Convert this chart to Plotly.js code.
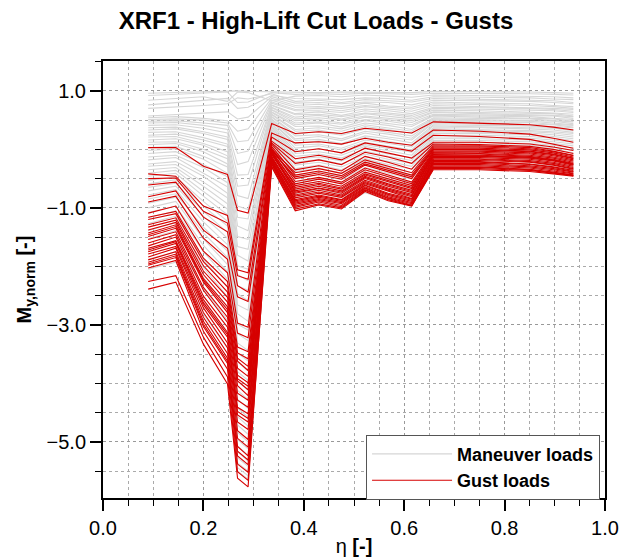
<!DOCTYPE html>
<html>
<head>
<meta charset="utf-8">
<script src="https://cdn.plot.ly/plotly-3.0.1.min.js"></script>
<style>html,body{margin:0;padding:0;background:#fff}#chart{width:622px;height:559px}</style>
</head>
<body>
<div id="chart"></div>
<script>
// spanwise stations eta
const eta = [0.09,0.145,0.2,0.248,0.268,0.289,0.336,0.383,0.43,0.475,0.522,0.568,0.615,0.658,0.75,0.85,0.897,0.937];

// Maneuver loads (gray)
const maneuverLoads = [
[0.96,0.97,0.98,0.99,1.00,0.99,0.98,0.97,0.97,0.98,0.98,0.98,0.97,0.99,0.99,0.98,0.97,0.96],
[0.92,0.94,0.96,0.98,0.80,0.81,0.97,0.94,0.95,0.94,0.96,0.95,0.94,0.96,0.96,0.95,0.94,0.93],
[0.84,0.87,0.90,0.82,0.98,0.97,0.83,0.91,0.92,0.90,0.93,0.91,0.89,0.93,0.92,0.91,0.90,0.88],
[0.76,0.80,0.84,0.87,0.70,0.72,0.92,0.87,0.86,0.85,0.88,0.87,0.84,0.90,0.89,0.88,0.86,0.85],
[0.70,0.72,0.75,0.78,0.88,0.86,0.95,0.82,0.84,0.80,0.85,0.83,0.81,0.87,0.86,0.84,0.83,0.80],
[0.57,0.59,0.62,0.64,0.52,0.55,0.90,0.79,0.80,0.78,0.81,0.80,0.76,0.84,0.83,0.82,0.80,0.78],
[0.54,0.56,0.53,0.49,0.31,0.35,0.87,0.75,0.77,0.73,0.79,0.74,0.72,0.81,0.79,0.78,0.75,0.73],
[0.51,0.52,0.50,0.45,0.13,0.15,0.84,0.72,0.73,0.70,0.75,0.72,0.69,0.78,0.77,0.75,0.73,0.70],
[0.48,0.49,0.45,0.41,-0.07,-0.03,0.81,0.68,0.70,0.66,0.73,0.69,0.65,0.75,0.73,0.72,0.70,0.68],
[0.45,0.46,0.41,0.34,-0.26,-0.21,0.79,0.66,0.66,0.63,0.69,0.66,0.61,0.72,0.71,0.70,0.68,0.65],
[0.41,0.42,0.36,0.28,-0.44,-0.43,0.76,0.61,0.64,0.58,0.66,0.62,0.58,0.70,0.69,0.67,0.66,0.63],
[0.37,0.38,0.30,0.21,-0.63,-0.61,0.75,0.59,0.60,0.56,0.62,0.60,0.55,0.67,0.66,0.64,0.62,0.60],
[0.33,0.35,0.27,0.17,-0.79,-0.84,0.72,0.55,0.58,0.52,0.61,0.57,0.52,0.64,0.63,0.62,0.61,0.57],
[0.29,0.30,0.20,0.09,-0.97,-1.03,0.71,0.52,0.54,0.50,0.57,0.53,0.49,0.63,0.61,0.60,0.58,0.56],
[0.24,0.26,0.16,0.05,-1.16,-1.19,0.68,0.49,0.51,0.45,0.55,0.50,0.46,0.60,0.59,0.58,0.57,0.53],
[0.21,0.22,0.10,-0.04,-1.31,-1.39,0.67,0.45,0.47,0.43,0.51,0.48,0.42,0.58,0.57,0.56,0.53,0.51],
[0.16,0.18,0.07,-0.11,-1.49,-1.54,0.64,0.42,0.45,0.38,0.49,0.44,0.39,0.57,0.55,0.53,0.52,0.48],
[0.12,0.13,0.00,-0.16,-1.66,-1.71,0.63,0.39,0.40,0.35,0.45,0.41,0.34,0.54,0.53,0.52,0.49,0.47],
[0.08,0.10,-0.04,-0.25,-1.81,-1.91,0.60,0.34,0.37,0.31,0.42,0.36,0.31,0.52,0.51,0.49,0.48,0.44],
[0.03,0.05,-0.12,-0.30,-1.99,-2.05,0.59,0.31,0.33,0.26,0.39,0.34,0.27,0.50,0.49,0.48,0.45,0.42],
[-0.02,0.01,-0.17,-0.41,-2.14,-2.25,0.56,0.26,0.30,0.24,0.35,0.29,0.23,0.48,0.47,0.46,0.43,0.41],
[-0.07,-0.04,-0.26,-0.47,-2.33,-2.41,0.55,0.23,0.25,0.18,0.31,0.26,0.19,0.46,0.45,0.43,0.42,0.38],
[-0.13,-0.10,-0.31,-0.57,-2.47,-2.59,0.52,0.18,0.22,0.15,0.28,0.21,0.16,0.45,0.43,0.41,0.39,0.37],
[-0.18,-0.14,-0.41,-0.64,-2.66,-2.75,0.51,0.15,0.17,0.10,0.23,0.18,0.11,0.42,0.41,0.40,0.37,0.34],
[-0.25,-0.21,-0.46,-0.75,-2.81,-2.94,0.48,0.10,0.14,0.08,0.20,0.13,0.07,0.40,0.39,0.37,0.36,0.32],
[-0.29,-0.26,-0.56,-0.83,-2.99,-3.09,0.47,0.07,0.09,0.02,0.16,0.10,0.04,0.37,0.37,0.35,0.33,0.29],
[-0.35,-0.31,-0.63,-0.93,-3.15,-3.27,0.44,0.02,0.06,-0.01,0.12,0.05,-0.01,0.35,0.34,0.32,0.30,0.27],
[-0.41,-0.36,-0.72,-1.02,-3.31,-3.44,0.42,-0.03,0.01,-0.06,0.08,0.01,-0.05,0.32,0.32,0.30,0.28,0.24],
[-0.46,-0.41,-0.80,-1.12,-3.48,-3.62,0.39,-0.07,-0.04,-0.10,0.05,-0.03,-0.10,0.30,0.29,0.28,0.25,0.21],
[-0.53,-0.47,-0.89,-1.23,-3.63,-3.79,0.37,-0.12,-0.08,-0.15,0.01,-0.08,-0.14,0.27,0.27,0.25,0.22,0.18],
[-0.59,-0.52,-0.97,-1.31,-3.80,-3.95,0.34,-0.17,-0.13,-0.20,-0.03,-0.12,-0.19,0.24,0.24,0.22,0.19,0.15],
[-0.65,-0.58,-1.06,-1.42,-3.96,-4.12,0.31,-0.22,-0.17,-0.25,-0.08,-0.17,-0.24,0.21,0.21,0.19,0.16,0.12],
[-0.71,-0.63,-1.14,-1.52,-4.12,-4.28,0.28,-0.27,-0.22,-0.30,-0.12,-0.21,-0.29,0.18,0.18,0.16,0.13,0.09],
[-0.78,-0.69,-1.24,-1.63,-4.27,-4.43,0.25,-0.33,-0.27,-0.35,-0.16,-0.26,-0.34,0.15,0.15,0.13,0.10,0.06],
[-0.85,-0.76,-1.33,-1.74,-4.42,-4.58,0.21,-0.38,-0.32,-0.41,-0.21,-0.31,-0.40,0.11,0.12,0.10,0.07,0.02],
[-0.92,-0.82,-1.43,-1.85,-4.57,-4.73,0.17,-0.44,-0.38,-0.46,-0.26,-0.36,-0.45,0.08,0.09,0.07,0.03,-0.02],
[-1.00,-0.89,-1.53,-1.97,-4.71,-4.87,0.12,-0.50,-0.43,-0.52,-0.31,-0.41,-0.51,0.04,0.05,0.03,0.00,-0.06],
[-1.08,-0.97,-1.64,-2.09,-4.84,-5.00,0.08,-0.56,-0.49,-0.57,-0.36,-0.47,-0.57,0.00,0.01,-0.01,-0.05,-0.10],
[-1.17,-1.05,-1.75,-2.22,-4.96,-5.12,0.03,-0.62,-0.55,-0.63,-0.41,-0.52,-0.63,-0.05,-0.03,-0.05,-0.09,-0.15],
[-1.27,-1.14,-1.88,-2.36,-5.07,-5.23,-0.02,-0.69,-0.61,-0.69,-0.47,-0.58,-0.69,-0.10,-0.08,-0.10,-0.14,-0.20],
[-1.39,-1.25,-2.02,-2.52,-5.17,-5.33,-0.08,-0.76,-0.68,-0.76,-0.53,-0.64,-0.75,-0.15,-0.13,-0.15,-0.19,-0.25],
[-1.53,-1.39,-2.19,-2.70,-5.27,-5.42,-0.14,-0.83,-0.75,-0.83,-0.59,-0.71,-0.82,-0.20,-0.18,-0.20,-0.24,-0.29],
[-1.70,-1.56,-2.38,-2.92,-5.36,-5.50,-0.20,-0.90,-0.82,-0.90,-0.65,-0.77,-0.88,-0.25,-0.23,-0.25,-0.28,-0.32],
[-1.88,-1.75,-2.60,-3.15,-5.44,-5.58,-0.26,-0.96,-0.88,-0.95,-0.70,-0.82,-0.93,-0.29,-0.27,-0.29,-0.31,-0.35],
[-2.05,-1.93,-2.82,-3.40,-5.50,-5.64,-0.31,-1.01,-0.93,-0.99,-0.74,-0.86,-0.96,-0.33,-0.31,-0.32,-0.34,-0.38]
];

// Gust loads (red)
const gustLoads = [
[0.03,0.03,-0.29,-0.43,-1.04,-1.09,0.44,0.27,0.30,0.27,0.36,0.32,0.28,0.47,0.45,0.42,0.38,0.33],
[-0.42,-0.46,-0.97,-1.13,-2.06,-2.11,0.28,0.11,0.13,0.09,0.19,0.12,0.07,0.33,0.31,0.26,0.19,0.12],
[-0.50,-0.49,-1.06,-1.26,-2.16,-2.22,0.21,-0.04,0.01,-0.06,0.11,0.04,-0.03,0.24,0.22,0.17,0.09,0.02],
[-0.61,-0.56,-1.16,-1.41,-2.33,-2.44,0.14,-0.16,-0.10,-0.18,0.02,-0.06,-0.15,0.12,0.12,0.09,0.04,-0.02],
[-0.81,-0.71,-1.38,-1.69,-2.52,-2.60,0.09,-0.35,-0.28,-0.37,-0.12,-0.22,-0.34,0.06,0.06,0.03,-0.03,-0.10],
[-0.90,-0.80,-1.52,-1.88,-2.97,-3.04,0.11,-0.24,-0.18,-0.26,-0.05,-0.13,-0.24,0.09,0.08,0.05,0.00,-0.07],
[-1.09,-0.97,-1.74,-2.11,-3.14,-3.22,0.02,-0.55,-0.48,-0.56,-0.32,-0.44,-0.56,-0.03,-0.03,-0.06,-0.11,-0.18],
[-1.16,-1.06,-1.86,-2.26,-3.38,-3.46,0.05,-0.44,-0.37,-0.45,-0.22,-0.33,-0.44,0.02,0.02,-0.01,-0.06,-0.13],
[-1.29,-1.17,-1.99,-2.44,-3.57,-3.71,-0.06,-0.73,-0.66,-0.73,-0.48,-0.61,-0.72,-0.12,-0.12,-0.15,-0.20,-0.27],
[-1.33,-1.21,-2.08,-2.53,-3.62,-3.78,0.00,-0.40,-0.33,-0.41,-0.18,-0.29,-0.40,0.04,0.04,0.01,-0.04,-0.11],
[-1.38,-1.25,-2.14,-2.61,-3.74,-3.88,-0.18,-0.88,-0.80,-0.87,-0.61,-0.75,-0.85,-0.22,-0.22,-0.26,-0.31,-0.38],
[-1.43,-1.29,-2.21,-2.69,-3.86,-3.99,-0.03,-0.62,-0.55,-0.63,-0.39,-0.51,-0.62,-0.06,-0.07,-0.10,-0.15,-0.22],
[-1.49,-1.35,-2.27,-2.79,-3.96,-4.11,-0.24,-0.97,-0.88,-0.96,-0.67,-0.83,-0.93,-0.30,-0.30,-0.34,-0.39,-0.44],
[-1.54,-1.41,-2.36,-2.87,-4.04,-4.21,-0.05,-0.68,-0.60,-0.68,-0.44,-0.56,-0.67,-0.09,-0.10,-0.13,-0.18,-0.25],
[-1.60,-1.46,-2.41,-2.96,-4.17,-4.29,-0.12,-0.78,-0.70,-0.78,-0.53,-0.66,-0.77,-0.16,-0.16,-0.19,-0.24,-0.31],
[-1.65,-1.50,-2.51,-3.04,-4.29,-4.41,-0.01,-0.50,-0.43,-0.51,-0.27,-0.38,-0.50,-0.01,-0.01,-0.04,-0.09,-0.16],
[-1.69,-1.56,-2.57,-3.13,-4.41,-4.52,-0.21,-0.92,-0.84,-0.91,-0.64,-0.79,-0.89,-0.26,-0.26,-0.30,-0.35,-0.41],
[-1.75,-1.61,-2.66,-3.21,-4.54,-4.66,-0.14,-0.83,-0.75,-0.82,-0.57,-0.70,-0.81,-0.19,-0.19,-0.22,-0.27,-0.34],
[-1.79,-1.66,-2.71,-3.31,-4.66,-4.79,-0.28,-1.02,-0.93,-1.00,-0.70,-0.86,-0.96,-0.33,-0.33,-0.36,-0.41,-0.45],
[-1.84,-1.69,-2.79,-3.39,-4.81,-4.96,-0.04,-0.59,-0.51,-0.59,-0.35,-0.47,-0.59,-0.05,-0.05,-0.08,-0.13,-0.20],
[-1.89,-1.75,-2.87,-3.49,-4.94,-5.09,-0.19,-0.86,-0.78,-0.86,-0.59,-0.72,-0.84,-0.21,-0.21,-0.25,-0.30,-0.36],
[-1.93,-1.79,-2.94,-3.57,-5.08,-5.24,-0.15,-0.80,-0.73,-0.80,-0.55,-0.68,-0.79,-0.17,-0.17,-0.21,-0.26,-0.33],
[-1.98,-1.85,-3.03,-3.66,-5.24,-5.39,-0.25,-0.99,-0.90,-0.98,-0.69,-0.84,-0.95,-0.31,-0.31,-0.35,-0.40,-0.44],
[-2.03,-1.90,-3.11,-3.76,-5.38,-5.52,-0.08,-0.71,-0.63,-0.71,-0.46,-0.59,-0.70,-0.11,-0.11,-0.14,-0.19,-0.26],
[-2.26,-2.16,-3.21,-3.89,-5.51,-5.66,-0.30,-1.05,-0.95,-1.02,-0.72,-0.88,-0.97,-0.35,-0.35,-0.38,-0.42,-0.46],
[-2.39,-2.27,-3.33,-4.01,-5.62,-5.77,-0.17,-0.90,-0.82,-0.89,-0.62,-0.77,-0.87,-0.24,-0.24,-0.28,-0.33,-0.39],
[-1.20,-1.10,-1.92,-2.35,-3.48,-3.58,-0.02,-0.47,-0.40,-0.48,-0.25,-0.36,-0.47,0.00,0.00,-0.03,-0.08,-0.15],
[-1.46,-1.32,-2.24,-2.74,-3.92,-4.05,-0.13,-0.75,-0.67,-0.75,-0.50,-0.63,-0.74,-0.14,-0.14,-0.17,-0.22,-0.29],
[-1.72,-1.58,-2.62,-3.17,-4.48,-4.60,-0.22,-0.94,-0.86,-0.93,-0.66,-0.81,-0.91,-0.28,-0.28,-0.32,-0.37,-0.42],
[-1.96,-1.82,-2.99,-3.62,-5.16,-5.31,-0.09,-0.65,-0.58,-0.66,-0.42,-0.54,-0.65,-0.08,-0.08,-0.12,-0.17,-0.24]
];

const seriesNames = ["Maneuver loads", "Gust loads"];
const grayColor = "rgb(214,214,214)";
const redColor = "rgb(214,0,0)";

const traces = [];
maneuverLoads.forEach((ys, i) => {
  traces.push({x: eta, y: ys, type: "scatter", mode: "lines", name: seriesNames[0],
    legendgroup: "m", showlegend: i === 0, hoverinfo: "skip",
    line: {color: grayColor, width: 1.1}});
});
gustLoads.forEach((ys, i) => {
  traces.push({x: eta, y: ys, type: "scatter", mode: "lines", name: seriesNames[1],
    legendgroup: "g", showlegend: i === 0, hoverinfo: "skip",
    line: {color: redColor, width: 1.1}});
});

const font = "Liberation Sans, Arial, Helvetica, sans-serif";
const layout = {
  width: 622, height: 559,
  margin: {l: 103, r: 17, t: 61, b: 61},
  paper_bgcolor: "#fff", plot_bgcolor: "#fff",
  font: {family: font, color: "#000", size: 20},
  title: {text: "<b>XRF1 - High-Lift Cut Loads - Gusts</b>", x: 0.508, xanchor: "center",
    y: 0.963, yanchor: "middle", yref: "container", font: {family: font, size: 24, color: "#000"}},
  showlegend: true,
  legend: {x: 0.524, xanchor: "left", y: 0.145, yanchor: "top", bgcolor: "#fff",
    bordercolor: "#555", borderwidth: 1, itemwidth: 80, tracegroupgap: 0,
    font: {family: font, size: 18, color: "#000", weight: "bold"}},
  xaxis: {range: [0, 1], tickmode: "linear", tick0: 0, dtick: 0.2, tickformat: ".1f",
    showline: true, linecolor: "#000", linewidth: 2, mirror: true, zeroline: false,
    ticks: "outside", ticklen: 11, tickwidth: 2, tickcolor: "#000",
    showgrid: true, gridcolor: "#999", griddash: "dot", gridwidth: 1,
    minor: {dtick: 0.05, ticks: "outside", ticklen: 6, tickwidth: 1, tickcolor: "#000",
      showgrid: true, gridcolor: "#aaa", griddash: "dot", gridwidth: 1},
    tickfont: {family: font, size: 20},
    title: {text: "η <b>[-]</b>", standoff: 1, font: {family: font, size: 20}}},
  yaxis: {range: [-5.96, 1.51], tickmode: "linear", tick0: 1, dtick: 2, tickformat: ".1f",
    showline: true, linecolor: "#000", linewidth: 2, mirror: true, zeroline: false,
    ticks: "outside", ticklen: 11, tickwidth: 2, tickcolor: "#000",
    showgrid: true, gridcolor: "#999", griddash: "dot", gridwidth: 1,
    minor: {dtick: 0.5, ticks: "outside", ticklen: 6, tickwidth: 1, tickcolor: "#000",
      showgrid: true, gridcolor: "#aaa", griddash: "dot", gridwidth: 1},
    tickfont: {family: font, size: 20},
    title: {text: "<b>M<sub>y,norm</sub> [-]</b>", standoff: 10, font: {family: font, size: 20}}}
};

Plotly.newPlot("chart", traces, layout, {staticPlot: true, displayModeBar: false});
</script>
</body>
</html>
